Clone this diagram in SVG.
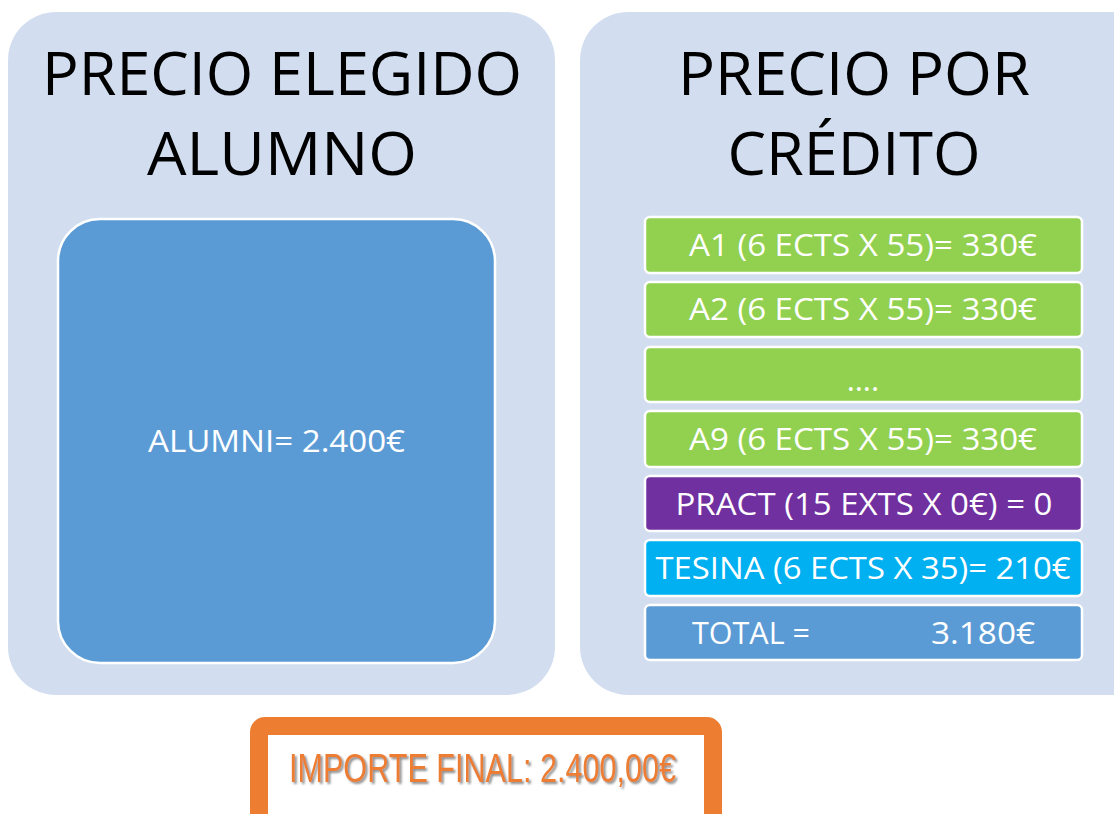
<svg xmlns="http://www.w3.org/2000/svg" width="1114" height="814" viewBox="0 0 1114 814">
<defs>
<style>
.panel{fill:#D2DEEF;}
.title{font-family:"Open Sans","Noto Sans",sans-serif;font-size:60px;fill:#000;text-anchor:middle;}
.row{stroke:#fff;stroke-width:2.5;}
.rt{font-family:"Open Sans","Noto Sans",sans-serif;font-size:31px;fill:#fff;text-anchor:middle;}
.lt{font-family:"Open Sans","Noto Sans",sans-serif;font-size:31px;fill:#fff;}
</style>
<filter id="sh" x="-5%" y="-20%" width="110%" height="140%">
<feDropShadow dx="2" dy="2" stdDeviation="0.8" flood-color="#808080" flood-opacity="0.9"/>
</filter>
</defs>
<rect width="1114" height="814" fill="#fff"/>
<g id="left-panel">
<rect class="panel" x="8" y="12" width="547" height="683" rx="48"/>
<text class="title" x="282" y="95" textLength="480" lengthAdjust="spacingAndGlyphs">PRECIO ELEGIDO</text>
<text class="title" x="282" y="175" textLength="270" lengthAdjust="spacingAndGlyphs">ALUMNO</text>
</g>
<g id="alumni">
<rect x="58" y="219" width="437" height="444" rx="42" fill="#5B9BD5" stroke="#fff" stroke-width="2.5"/>
<text class="lt" x="148" y="452" textLength="257" lengthAdjust="spacingAndGlyphs">ALUMNI= 2.400€</text>
</g>
<g id="right-panel">
<rect class="panel" x="580" y="12" width="580" height="683" rx="48"/>
<text class="title" x="854" y="95" textLength="352" lengthAdjust="spacingAndGlyphs">PRECIO POR</text>
<text class="title" x="854" y="175" textLength="253" lengthAdjust="spacingAndGlyphs">CRÉDITO</text>
</g>
<g id="row-a1">
<rect class="row" x="645" y="217" width="437" height="56" rx="5" fill="#92D050"/>
<text class="rt" x="863" y="256" textLength="348" lengthAdjust="spacingAndGlyphs">A1 (6 ECTS X 55)= 330€</text>
</g>
<g id="row-a2">
<rect class="row" x="645" y="282" width="437" height="55" rx="5" fill="#92D050"/>
<text class="rt" x="863" y="320" textLength="348" lengthAdjust="spacingAndGlyphs">A2 (6 ECTS X 55)= 330€</text>
</g>
<g id="row-dots">
<rect class="row" x="645" y="347" width="437" height="55" rx="5" fill="#92D050"/>
<text class="rt" x="863" y="391">….</text>
</g>
<g id="row-a9">
<rect class="row" x="645" y="411" width="437" height="56" rx="5" fill="#92D050"/>
<text class="rt" x="863" y="450" textLength="348" lengthAdjust="spacingAndGlyphs">A9 (6 ECTS X 55)= 330€</text>
</g>
<g id="row-pract">
<rect class="row" x="645" y="476" width="437" height="55" rx="5" fill="#7030A0"/>
<text class="rt" x="864" y="515" textLength="377" lengthAdjust="spacingAndGlyphs">PRACT (15 EXTS X 0€) = 0</text>
</g>
<g id="row-tesina">
<rect class="row" x="645" y="540" width="437" height="56" rx="5" fill="#00B0F0"/>
<text class="rt" x="863" y="579" textLength="415" lengthAdjust="spacingAndGlyphs">TESINA (6 ECTS X 35)= 210€</text>
</g>
<g id="row-total">
<rect class="row" x="645" y="605" width="437" height="55" rx="5" fill="#5B9BD5"/>
<text class="lt" x="692" y="644" textLength="118" lengthAdjust="spacingAndGlyphs">TOTAL =</text>
<text class="lt" x="931" y="644" textLength="104" lengthAdjust="spacingAndGlyphs">3.180€</text>
</g>
<g id="importe-final">
<rect x="259" y="726" width="454" height="110" rx="6" fill="#fff" stroke="#ED7D31" stroke-width="18"/>
<text x="289" y="782" font-family="Liberation Sans, Arial, sans-serif" font-size="40" fill="#ED7D31" filter="url(#sh)" textLength="387" lengthAdjust="spacingAndGlyphs">IMPORTE FINAL: 2.400,00€</text>
</g>
<g id="connectors"></g>
</svg>
